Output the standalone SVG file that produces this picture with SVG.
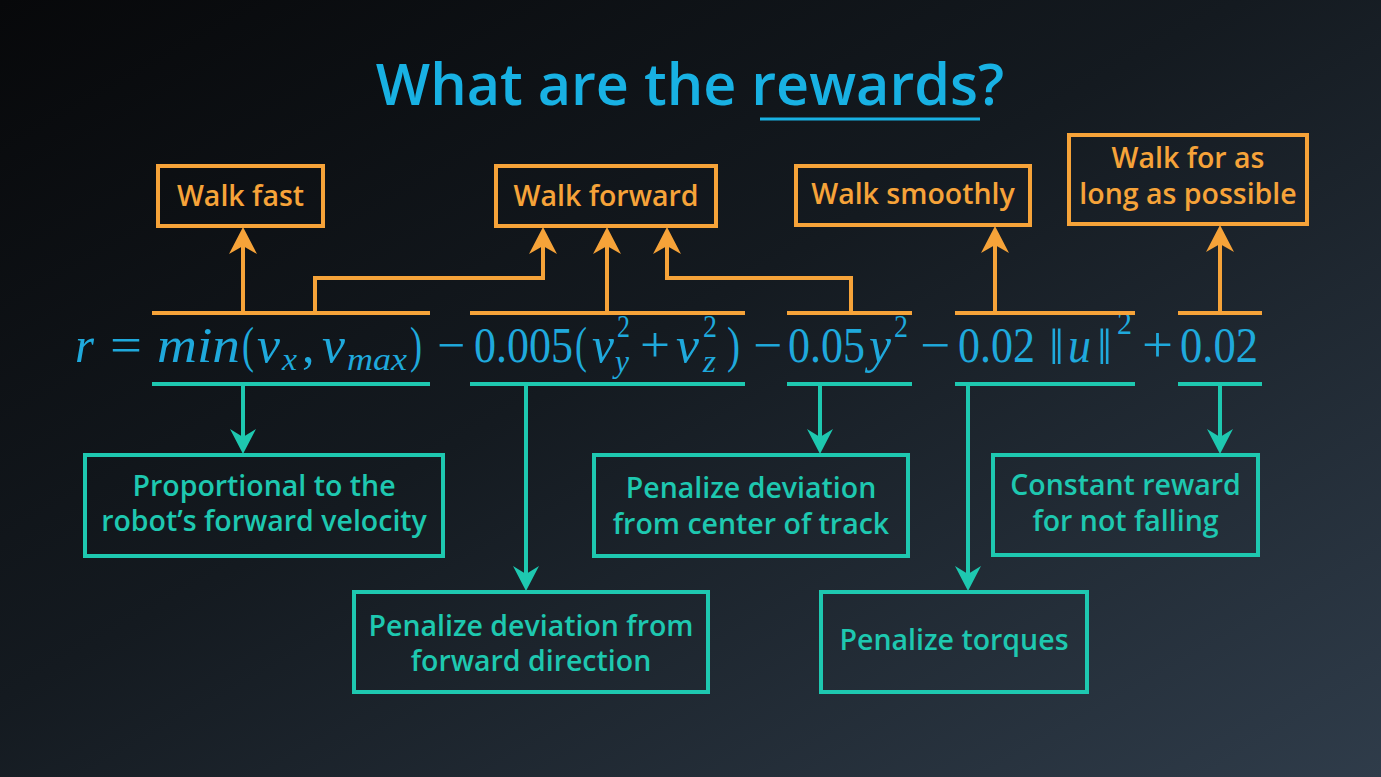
<svg xmlns="http://www.w3.org/2000/svg" width="1381" height="777" viewBox="0 0 1381 777">
  <defs>
    <linearGradient id="bg" x1="0" y1="0" x2="1" y2="1">
      <stop offset="0" stop-color="#07080a"/>
      <stop offset="0.45" stop-color="#141a20"/>
      <stop offset="1" stop-color="#2f3c4a"/>
    </linearGradient>
    <marker id="headO" markerUnits="userSpaceOnUse" viewBox="0 -15 30 30" markerWidth="30" markerHeight="30" refX="12" refY="0" orient="auto">
      <path d="M27,0 L0,-14 L8,0 L0,14 Z" fill="#f6a339"/>
    </marker>
    <marker id="headT" markerUnits="userSpaceOnUse" viewBox="0 -15 30 30" markerWidth="30" markerHeight="30" refX="12" refY="0" orient="auto">
      <path d="M25,0 L0,-13 L8,0 L0,13 Z" fill="#1ec8b0"/>
    </marker>
  </defs>
  <style>
    .goal rect { fill: none; stroke: #f6a339; stroke-width: 4; }
    .goal text { fill: #f6a339; }
    .term rect { fill: none; stroke: #1ec8b0; stroke-width: 4; }
    .term text { fill: #1ec8b0; }
    .lbl { font-family: "Open Sans", "Noto Sans", sans-serif; font-size: 28.5px; font-weight: 600; text-anchor: middle; }
    .o { fill: none; stroke: #f6a339; stroke-width: 4; }
    .t { fill: none; stroke: #1ec8b0; stroke-width: 4; }
    .oa { fill: none; stroke: #f6a339; stroke-width: 4; marker-end: url(#headO); }
    .ta { fill: none; stroke: #1ec8b0; stroke-width: 4; marker-end: url(#headT); }
    .eq { font-family: "Liberation Serif", "DejaVu Serif", serif; font-size: 50px; fill: #1fa9dc; }
    .it { font-style: italic; }
    .sm { font-size: 32px; }
    .sup { font-size: 31px; }
  </style>

  <rect width="1381" height="777" fill="url(#bg)"/>

  <!-- heading -->
  <g id="title">
    <text x="690" y="105" font-family="Open Sans, Noto Sans, sans-serif" font-size="57.5" font-weight="600" fill="#18b1e3" text-anchor="middle">What are the rewards?</text>
    <line x1="760" y1="119" x2="980" y2="119" stroke="#18b1e3" stroke-width="3"/>
  </g>

  <!-- reward formula -->
  <g id="formula" class="eq">
    <text x="75" y="362" class="it" textLength="19" lengthAdjust="spacingAndGlyphs">r</text>
    <text x="110" y="362" textLength="32" lengthAdjust="spacingAndGlyphs">=</text>
    <text x="157" y="362" class="it" textLength="83" lengthAdjust="spacingAndGlyphs">min</text>
    <text x="242" y="362" textLength="12" lengthAdjust="spacingAndGlyphs">(</text>
    <text x="257" y="362" class="it" textLength="23" lengthAdjust="spacingAndGlyphs">v</text>
    <text x="282" y="370" class="it sm" textLength="15" lengthAdjust="spacingAndGlyphs">x</text>
    <text x="302" y="362">,</text>
    <text x="322" y="362" class="it" textLength="23" lengthAdjust="spacingAndGlyphs">v</text>
    <text x="347" y="370" class="it sm" textLength="60" lengthAdjust="spacingAndGlyphs">max</text>
    <text x="410" y="362" textLength="12" lengthAdjust="spacingAndGlyphs">)</text>
    <text x="437" y="362" textLength="28" lengthAdjust="spacingAndGlyphs">−</text>

    <text x="474" y="362" textLength="99" lengthAdjust="spacingAndGlyphs">0.005</text>
    <text x="575" y="362" textLength="12" lengthAdjust="spacingAndGlyphs">(</text>
    <text x="592" y="362" class="it" textLength="22" lengthAdjust="spacingAndGlyphs">v</text>
    <text x="617" y="337" class="sup" textLength="13" lengthAdjust="spacingAndGlyphs">2</text>
    <text x="615" y="372" class="it sm" textLength="14" lengthAdjust="spacingAndGlyphs">y</text>
    <text x="640" y="362" textLength="30" lengthAdjust="spacingAndGlyphs">+</text>
    <text x="676" y="362" class="it" textLength="23" lengthAdjust="spacingAndGlyphs">v</text>
    <text x="703" y="337" class="sup" textLength="14" lengthAdjust="spacingAndGlyphs">2</text>
    <text x="703" y="372" class="it sm" textLength="13" lengthAdjust="spacingAndGlyphs">z</text>
    <text x="727" y="362" textLength="13" lengthAdjust="spacingAndGlyphs">)</text>
    <text x="753" y="362" textLength="29" lengthAdjust="spacingAndGlyphs">−</text>

    <text x="788" y="362" textLength="77" lengthAdjust="spacingAndGlyphs">0.05</text>
    <text x="869" y="362" class="it" textLength="22" lengthAdjust="spacingAndGlyphs">y</text>
    <text x="894" y="337" class="sup" textLength="14" lengthAdjust="spacingAndGlyphs">2</text>
    <text x="920" y="362" textLength="30" lengthAdjust="spacingAndGlyphs">−</text>

    <text x="958" y="362" textLength="77" lengthAdjust="spacingAndGlyphs">0.02</text>
    <text x="1049" y="364" textLength="15" lengthAdjust="spacingAndGlyphs">‖</text>
    <text x="1068" y="362" class="it" textLength="23" lengthAdjust="spacingAndGlyphs">u</text>
    <text x="1097" y="364" textLength="15" lengthAdjust="spacingAndGlyphs">‖</text>
    <text x="1117" y="334" class="sup" textLength="15" lengthAdjust="spacingAndGlyphs">2</text>
    <text x="1142" y="362" textLength="31" lengthAdjust="spacingAndGlyphs">+</text>
    <text x="1180" y="362" textLength="78" lengthAdjust="spacingAndGlyphs">0.02</text>
  </g>

  <!-- goals (top) -->
  <g id="walk-fast" class="goal">
    <rect x="158" y="166" width="165" height="60"/>
    <text class="lbl" x="240.5" y="206">Walk fast</text>
  </g>
  <g id="walk-forward" class="goal">
    <rect x="496" y="166" width="220" height="60"/>
    <text class="lbl" x="606" y="206">Walk forward</text>
  </g>
  <g id="walk-smoothly" class="goal">
    <rect x="796" y="166" width="234" height="59"/>
    <text class="lbl" x="913" y="204">Walk smoothly</text>
  </g>
  <g id="walk-long" class="goal">
    <rect x="1069" y="135" width="238" height="89"/>
    <text class="lbl" x="1188" y="168">Walk for as</text>
    <text class="lbl" x="1188" y="204">long as possible</text>
  </g>

  <!-- term meanings (bottom) -->
  <g id="velocity" class="term">
    <rect x="85" y="455" width="358" height="101"/>
    <text class="lbl" x="264" y="496">Proportional to the</text>
    <text class="lbl" x="264" y="531">robot’s forward velocity</text>
  </g>
  <g id="center" class="term">
    <rect x="594" y="455" width="314" height="101"/>
    <text class="lbl" x="751" y="498">Penalize deviation</text>
    <text class="lbl" x="751" y="534">from center of track</text>
  </g>
  <g id="constant" class="term">
    <rect x="993" y="455" width="265" height="100"/>
    <text class="lbl" x="1125.5" y="495">Constant reward</text>
    <text class="lbl" x="1125.5" y="531">for not falling</text>
  </g>
  <g id="direction" class="term">
    <rect x="354" y="592" width="354" height="100"/>
    <text class="lbl" x="531" y="636">Penalize deviation from</text>
    <text class="lbl" x="531" y="671">forward direction</text>
  </g>
  <g id="torques" class="term">
    <rect x="821" y="592" width="266" height="100"/>
    <text class="lbl" x="954" y="650">Penalize torques</text>
  </g>

  <!-- connectors -->
  <g id="connectors">
    <!-- brackets above the terms -->
    <path class="o" d="M152,313 H430 M470,313 H745 M787,313 H912 M955,313 H1135 M1178,313 H1262"/>
    <!-- brackets below the terms -->
    <path class="t" d="M152,384 H430 M470,384 H745 M787,384 H912 M955,384 H1135 M1178,384 H1262"/>

    <path class="oa" d="M243,313 V242"/>
    <path class="oa" d="M315,313 V278 H543 V242"/>
    <path class="oa" d="M607,313 V242"/>
    <path class="oa" d="M851,313 V278 H667 V242"/>
    <path class="oa" d="M995,313 V241"/>
    <path class="oa" d="M1220,313 V240"/>

    <path class="ta" d="M243,384 V441"/>
    <path class="ta" d="M526,384 V578"/>
    <path class="ta" d="M820,384 V441"/>
    <path class="ta" d="M968,384 V578"/>
    <path class="ta" d="M1220,384 V441"/>
  </g>
</svg>
